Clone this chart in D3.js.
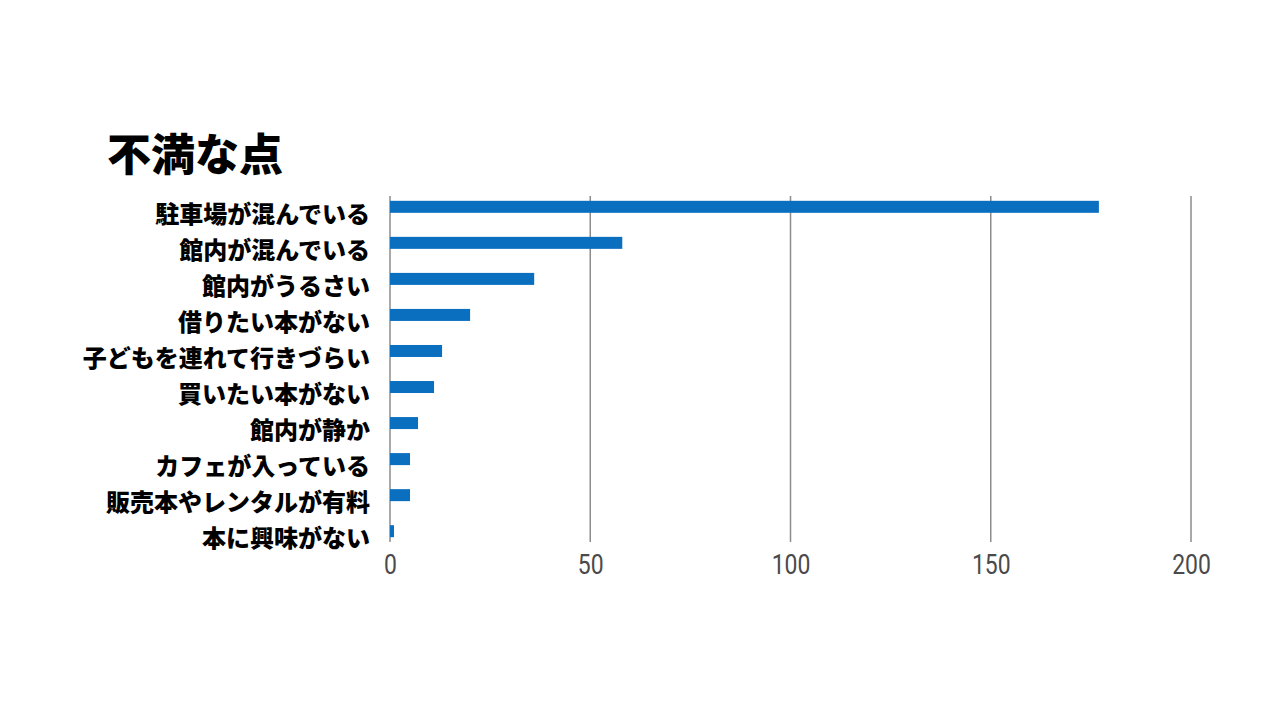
<!DOCTYPE html>
<html>
<head>
<meta charset="utf-8">
<script src="https://cdn.jsdelivr.net/npm/d3@7"></script>
<style>
body{margin:0;background:#fff;}
</style>
</head>
<body>
<script>
// data
var categories = ['駐車場が混んでいる','館内が混んでいる','館内がうるさい','借りたい本がない','子どもを連れて行きづらい','買いたい本がない','館内が静か','カフェが入っている','販売本やレンタルが有料','本に興味がない'];
var counts = [177, 58, 36, 20, 13, 11, 7, 5, 5, 1];
var ticks = [0, 50, 100, 150, 200];
var title = '不満な点';

var width = 1280, height = 720;
var plotLeft = 390, plotRight = 1191, plotTop = 196, plotBottom = 542;

var svg = d3.select('body').append('svg')
    .attr('width', width)
    .attr('height', height)

svg.append('text').text(title)
    .attr('x', 107).attr('y', 171)
    .attr('font-family', '"Noto Sans CJK JP"')
    .attr('font-weight', 900)
    .attr('font-size', 44)
    .attr('fill', '#000')

var data = categories.map(function(c, i){ return {name: c, value: counts[i]} })

var xScale = d3.scaleLinear().domain([0, 200]).range([plotLeft, plotRight]);
var yScale = d3.scalePoint().domain(categories).range([plotTop, plotBottom]).padding(0.3);

// grid lines
svg.selectAll('.grid')
    .data(ticks)
    .enter()
    .append('line')
    .attr('x1', d => xScale(d))
    .attr('x2', d => xScale(d))
    .attr('y1', plotTop)
    .attr('y2', plotBottom)
    .attr('stroke', '#8c8c8c')
    .attr('stroke-width', 1.5)

// bars
var barH = 12;
svg.selectAll('.bar')
    .data(data)
    .enter()
    .append('rect')
    .attr('x', xScale(0))
    .attr('y', d => yScale(d.name) - barH/2)
    .attr('width', d => xScale(d.value) - xScale(0))
    .attr('height', barH)
    .attr('fill', '#0b6fc0')

// category labels
svg.selectAll('.lab')
    .data(data)
    .enter()
    .append('text')
    .text(d => d.name)
    .attr('x', 370)
    .attr('y', d => yScale(d.name) + 16)
    .attr('text-anchor', 'end')
    .attr('font-family', '"Noto Sans CJK JP"')
    .attr('font-weight', 900)
    .attr('font-size', 24)
    .attr('fill', '#000')

// x axis labels
var xAxis = d3.axisBottom(xScale).tickValues(ticks).tickSize(0).tickPadding(12);
var ax = svg.append('g').attr('transform', `translate(0,${plotBottom})`).call(xAxis);
ax.select('.domain').remove();
ax.selectAll('text')
    .attr('font-family', 'Roboto')
    .attr('font-size', 28)
    .attr('fill', '#4a4a4a')
    .attr('transform', 'scale(0.82,1)')
</script>
</body>
</html>
